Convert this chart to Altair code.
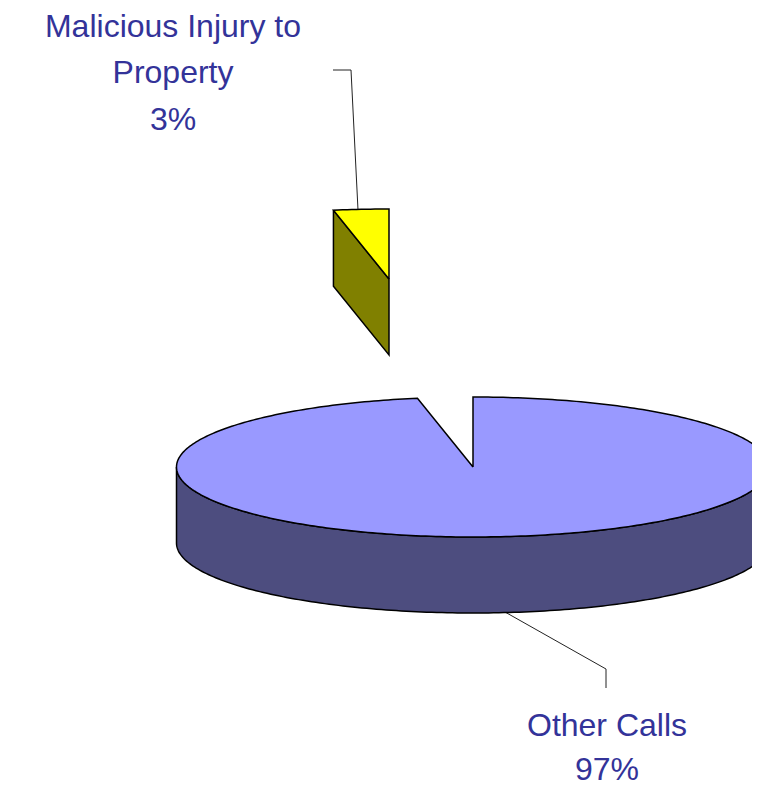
import math
import altair as alt
import pandas as pd

# Data
categories = ["Other Calls", "Malicious Injury to Property"]
shares = [97, 3]

# Label text, one row per printed line
label_lines = ["Malicious Injury to", "Property", "3%", "Other Calls", "97%"]
label_x = [173, 173, 173, 607, 607]
label_y = [37, 83, 130, 736, 780]

# Leader lines
leader_x = [333, 351, 358, 505, 606, 606]
leader_y = [70, 70, 210, 612, 669, 688]
leader_id = [1, 1, 1, 2, 2, 2]

# Pie layout (in picture pixels)
CX, CY, RX, RY, DEPTH = 473, 467, 296.5, 70, 76
EXPLODE_DX, EXPLODE_DY = -84, -188

TOP_BLUE, SIDE_BLUE = "#9999FF", "#4D4D7F"
TOP_YELLOW, SIDE_OLIVE = "#FFFF00", "#808000"
TEXT_COLOR = "#333399"

W, H = 744, 779
xs = alt.Scale(domain=[8, 752])
ys = alt.Scale(domain=[787, 8])


def rim(cx, cy, a0, a1, n):
    """Points of the tilted circle, angles clockwise from 12 o'clock in degrees."""
    out = []
    for i in range(n + 1):
        t = math.radians(a0 + (a1 - a0) * i / n)
        out.append((cx + RX * math.sin(t), cy - RY * math.cos(t)))
    return out


def frame(points):
    return pd.DataFrame(
        {"x": [p[0] for p in points], "y": [p[1] for p in points], "i": range(len(points))}
    )


def poly(points, fill):
    return (
        alt.Chart(frame(points + points[:1]))
        .mark_line(fill=fill, stroke="black", strokeWidth=1.5, clip=True, interpolate="linear")
        .encode(
            x=alt.X("x:Q", scale=xs, axis=None),
            y=alt.Y("y:Q", scale=ys, axis=None),
            order="i:Q",
        )
    )


sweep = 360 * shares[0] / sum(shares)

# Big slice: starts at 12 o'clock, runs clockwise
big_top = [(CX, CY)] + rim(CX, CY, 0, sweep, 360)
front = rim(CX, CY, 90, 270, 180)
big_side = front + [(x, y + DEPTH) for x, y in reversed(front)]

# Small slice: the rest of the circle, pulled up and to the left
tx, ty = CX + EXPLODE_DX, CY + EXPLODE_DY
small_rim = rim(tx, ty, sweep, 360, 12)
small_top = [(tx, ty)] + small_rim
a = small_rim[0]
small_side = [a, (tx, ty), (tx, ty + DEPTH), (a[0], a[1] + DEPTH)]

leaders = (
    alt.Chart(pd.DataFrame({"x": leader_x, "y": leader_y, "id": leader_id, "i": range(6)}))
    .mark_line(color="#222222", strokeWidth=1)
    .encode(
        x=alt.X("x:Q", scale=xs, axis=None),
        y=alt.Y("y:Q", scale=ys, axis=None),
        detail="id:N",
        order="i:Q",
    )
)

labels = (
    alt.Chart(pd.DataFrame({"x": label_x, "y": label_y, "t": label_lines}))
    .mark_text(font="Liberation Sans", fontSize=32, color=TEXT_COLOR, align="center", baseline="alphabetic")
    .encode(
        x=alt.X("x:Q", scale=xs, axis=None),
        y=alt.Y("y:Q", scale=ys, axis=None),
        text="t:N",
    )
)

chart = (
    alt.layer(
        leaders,
        poly(big_side, SIDE_BLUE),
        poly(big_top, TOP_BLUE),
        poly(small_side, SIDE_OLIVE),
        poly(small_top, TOP_YELLOW),
        labels,
    )
    .properties(width=W, height=H, padding=0, autosize=alt.AutoSizeParams(type="none"))
    .configure_view(stroke=None)
)

chart.save("out.html", embed_options={"renderer": "svg", "actions": False})
